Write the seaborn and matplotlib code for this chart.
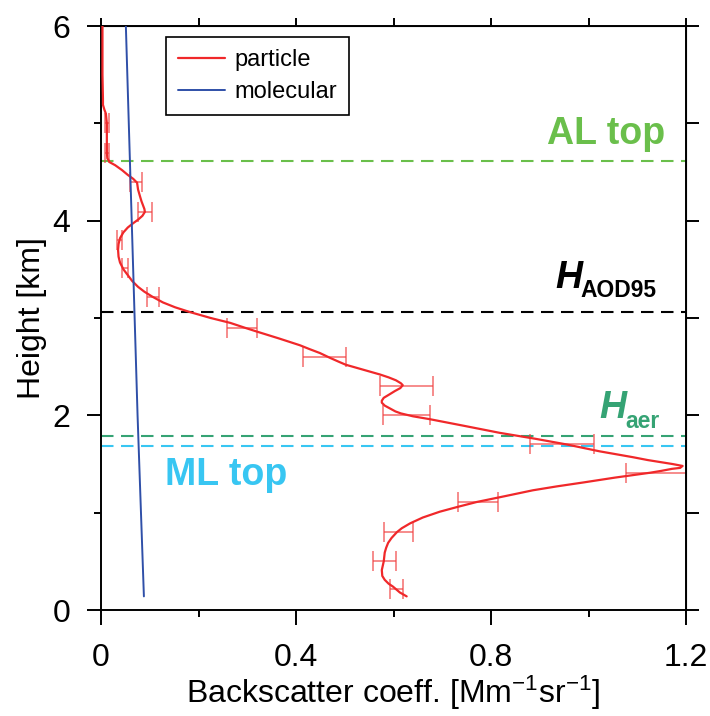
import numpy as np
import pandas as pd
import matplotlib
matplotlib.use("Agg")
import matplotlib.pyplot as plt
import seaborn as sns

# Particle backscatter profile (height in km, coefficient in Mm^-1 sr^-1)
particle_height = [6.00, 5.50, 5.25, 5.19, 5.14, 5.10, 5.05, 5.00, 4.85, 4.70, 4.64, 4.60,
                   4.57, 4.52, 4.47, 4.43, 4.39, 4.32, 4.25, 4.20, 4.16, 4.12, 4.09, 4.05,
                   4.01, 3.97, 3.93, 3.88, 3.82, 3.76, 3.70, 3.63, 3.57, 3.50, 3.44, 3.38,
                   3.32, 3.27, 3.22, 3.16, 3.11, 3.06, 3.00, 2.95, 2.90, 2.86, 2.79, 2.72,
                   2.68, 2.64, 2.59, 2.55, 2.52, 2.47, 2.42, 2.39, 2.36, 2.33, 2.31, 2.28,
                   2.25, 2.21, 2.18, 2.15, 2.13, 2.10, 2.07, 2.04, 2.02, 1.99, 1.96, 1.89,
                   1.82, 1.76, 1.70, 1.63, 1.57, 1.54, 1.52, 1.50, 1.48, 1.46, 1.45, 1.43,
                   1.41, 1.36, 1.31, 1.27, 1.23, 1.17, 1.11, 1.06, 1.01, 0.95, 0.89, 0.84,
                   0.80, 0.74, 0.69, 0.64, 0.59, 0.50, 0.41, 0.35, 0.31, 0.27, 0.24, 0.21,
                   0.18, 0.14]
particle_beta = [0.003, 0.003, 0.004, 0.004, 0.007, 0.010, 0.011, 0.012, 0.012, 0.012, 0.013, 0.018,
                 0.029, 0.043, 0.055, 0.066, 0.074, 0.076, 0.080, 0.083, 0.086, 0.089, 0.090, 0.085,
                 0.076, 0.065, 0.055, 0.046, 0.039, 0.036, 0.035, 0.036, 0.039, 0.046, 0.055, 0.064,
                 0.076, 0.089, 0.105, 0.127, 0.152, 0.183, 0.225, 0.265, 0.295, 0.320, 0.365, 0.408,
                 0.428, 0.449, 0.470, 0.488, 0.502, 0.537, 0.572, 0.590, 0.605, 0.615, 0.619, 0.614,
                 0.603, 0.590, 0.580, 0.576, 0.576, 0.582, 0.593, 0.604, 0.615, 0.640, 0.675, 0.747,
                 0.818, 0.890, 0.956, 1.023, 1.091, 1.122, 1.147, 1.172, 1.193, 1.188, 1.171, 1.150,
                 1.126, 1.054, 0.989, 0.935, 0.886, 0.829, 0.771, 0.732, 0.695, 0.660, 0.634, 0.617,
                 0.607, 0.596, 0.589, 0.585, 0.582, 0.580, 0.576, 0.577, 0.582, 0.590, 0.599, 0.606,
                 0.613, 0.627]

# Binned values with uncertainty
bin_height = [5.00, 4.70, 4.40, 4.09, 3.80, 3.51, 3.22, 2.90, 2.60, 2.30, 2.00,
              1.71, 1.41, 1.11, 0.80, 0.50, 0.22]
bin_beta = [0.012, 0.012, 0.072, 0.090, 0.038, 0.049, 0.107, 0.290, 0.459, 0.627, 0.627,
            0.946, 1.142, 0.774, 0.610, 0.582, 0.606]
bin_err = [0.004, 0.004, 0.012, 0.014, 0.005, 0.006, 0.012, 0.031, 0.044, 0.054, 0.048,
           0.065, 0.065, 0.041, 0.029, 0.024, 0.014]

# Molecular backscatter
molecular_height = [6.00, 5.00, 4.00, 3.00, 2.00, 1.00, 0.14]
molecular_beta = [0.051, 0.057, 0.063, 0.069, 0.075, 0.082, 0.088]

# Layer heights (km)
al_top = 4.61
h_aod95 = 3.06
h_aer = 1.79
ml_top = 1.69

x_ticks = [0, 0.4, 0.8, 1.2]
x_tick_labels = ["0", "0.4", "0.8", "1.2"]
y_ticks = [0, 2, 4, 6]

sns.set_style("ticks")
plt.rcParams["font.family"] = ["Liberation Sans", "DejaVu Sans"]
plt.rcParams["mathtext.fontset"] = "custom"
plt.rcParams["mathtext.rm"] = "Liberation Sans"
plt.rcParams["mathtext.it"] = "Liberation Sans:italic"
plt.rcParams["mathtext.bf"] = "Liberation Sans:bold"
for key in ["text.color", "axes.labelcolor", "xtick.color", "ytick.color", "axes.edgecolor"]:
    plt.rcParams[key] = "black"

RED = "#f0282a"
BLUE = "#2f4fa8"
GREEN = "#6abf4b"
TEAL = "#35a374"
CYAN = "#38c6f2"

fig = plt.figure(figsize=(7.10, 7.16), dpi=100)
ax = fig.add_axes([101 / 710, 106 / 716, 585 / 710, 584 / 716])

# layer markers
for h, c in [(al_top, GREEN), (h_aod95, "black"), (h_aer, TEAL), (ml_top, CYAN)]:
    ax.axhline(h, color=c, lw=1.5, ls=(0, (6, 3.6)), zorder=1)

ax.errorbar(bin_beta, bin_height, xerr=bin_err, fmt="none",
            ecolor=(0.94, 0.25, 0.25, 0.65), elinewidth=1.3, capsize=7, capthick=1.3, zorder=2)

part_df = pd.DataFrame({"beta": particle_beta, "height": particle_height})
mol_df = pd.DataFrame({"beta": molecular_beta, "height": molecular_height})
sns.lineplot(data=part_df, x="beta", y="height", sort=False, estimator=None,
             color=RED, lw=1.6, label="particle", ax=ax, zorder=3)
sns.lineplot(data=mol_df, x="beta", y="height", sort=False, estimator=None,
             color=BLUE, lw=1.4, label="molecular", ax=ax, zorder=3)

ax.set_xlim(0, 1.2)
ax.set_ylim(0, 6)
ax.set_xticks(x_ticks)
ax.set_xticklabels(x_tick_labels)
ax.set_xticks([0.2, 0.6, 1.0], minor=True)
ax.set_yticks(y_ticks)
ax.set_yticks([1, 3, 5], minor=True)

for s in ax.spines.values():
    s.set_visible(True)
    s.set_linewidth(1.4)
    s.set_color("black")

ax.tick_params(axis="x", which="major", length=11, width=1.4, direction="out",
               labelsize=23, pad=13, colors="black")
ax.tick_params(axis="x", which="minor", length=5, width=1.4, direction="out")
ax.tick_params(axis="y", which="major", length=10, width=1.4, direction="out",
               labelsize=23, pad=12, colors="black")
ax.tick_params(axis="y", which="minor", length=5, width=1.4, direction="out")

top = ax.secondary_xaxis("top")
top.set_xticks(np.arange(0, 1.21, 0.2))
top.tick_params(length=6, width=1.4, direction="out", labeltop=False)
right = ax.secondary_yaxis("right")
right.set_yticks(np.arange(0, 6.1, 1))
right.tick_params(length=9, width=1.4, direction="out", labelright=False)

ax.set_xlabel("Backscatter coeff. [Mm$^{-1}$sr$^{-1}$]", fontsize=23, labelpad=0)
ax.set_ylabel("Height [km]", fontsize=23, labelpad=4)

# layer annotations
ax.text(0.915, 4.79, "AL top", color=GREEN, fontsize=27, fontweight="bold", va="baseline")
ax.text(0.132, 1.28, "ML top", color=CYAN, fontsize=27, fontweight="bold", va="baseline")

h1 = ax.text(0.931, 3.31, "H", color="black", fontsize=27, fontweight="bold",
             fontstyle="italic", va="baseline")
ax.annotate("AOD95", xy=(1, 0), xycoords=h1, xytext=(-1, -1), textcoords="offset points",
            color="black", fontsize=16.5, fontweight="bold", va="baseline", ha="left")
h2 = ax.text(1.023, 1.97, "H", color=TEAL, fontsize=27, fontweight="bold",
             fontstyle="italic", va="baseline")
ax.annotate("aer", xy=(1, 0), xycoords=h2, xytext=(-1, -1), textcoords="offset points",
            color=TEAL, fontsize=16.5, fontweight="bold", va="baseline", ha="left")

leg = ax.legend(loc="upper left", bbox_to_anchor=(0.111, 0.981), fontsize=17,
                frameon=True, fancybox=False, edgecolor="black", framealpha=1,
                handlelength=2.0, handletextpad=0.4, labelspacing=0.42,
                borderpad=0.5, borderaxespad=0)
leg.get_frame().set_linewidth(1.2)

fig.savefig("out.png", dpi=100)
